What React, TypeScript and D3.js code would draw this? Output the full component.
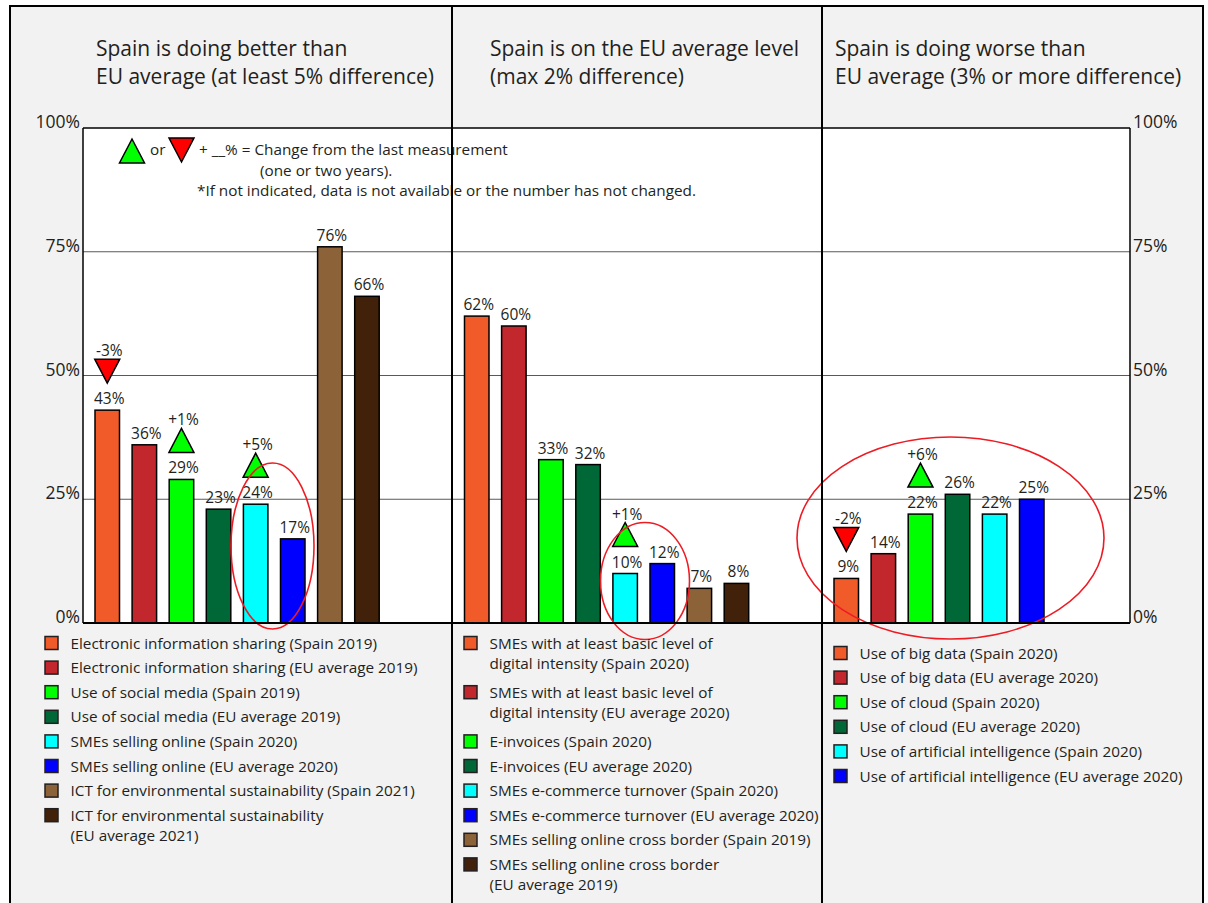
import React from 'react';
import * as d3 from 'd3';

const FONT = '"Open Sans", "Noto Sans", sans-serif';
const INK = '#231f20';

// ---- data ----
const panelTitles = [
  ['Spain is doing better than', 'EU average (at least 5% difference)'],
  ['Spain is on the EU average level', '(max 2% difference)'],
  ['Spain is doing worse than', 'EU average (3% or more difference)'],
];

const betterLabels = [
  ['Electronic information sharing (Spain 2019)'],
  ['Electronic information sharing (EU average 2019)'],
  ['Use of social media (Spain 2019)'],
  ['Use of social media (EU average 2019)'],
  ['SMEs selling online (Spain 2020)'],
  ['SMEs selling online (EU average 2020)'],
  ['ICT for environmental sustainability (Spain 2021)'],
  ['ICT for environmental sustainability', '(EU average 2021)'],
];
const betterValues = [43, 36, 29, 23, 24, 17, 76, 66];
const betterChanges = [-3, null, 1, null, 5, null, null, null];

const averageLabels = [
  ['SMEs with at least basic level of', 'digital intensity (Spain 2020)'],
  ['SMEs with at least basic level of', 'digital intensity (EU average 2020)'],
  ['E-invoices (Spain 2020)'],
  ['E-invoices (EU average 2020)'],
  ['SMEs e-commerce turnover (Spain 2020)'],
  ['SMEs e-commerce turnover (EU average 2020)'],
  ['SMEs selling online cross border (Spain 2019)'],
  ['SMEs selling online cross border', '(EU average 2019)'],
];
const averageValues = [62, 60, 33, 32, 10, 12, 7, 8];
const averageChanges = [null, null, null, null, 1, null, null, null];

const worseLabels = [
  ['Use of big data (Spain 2020)'],
  ['Use of big data (EU average 2020)'],
  ['Use of cloud (Spain 2020)'],
  ['Use of cloud (EU average 2020)'],
  ['Use of artificial intelligence (Spain 2020)'],
  ['Use of artificial intelligence (EU average 2020)'],
];
const worseValues = [9, 14, 22, 26, 22, 25];
const worseChanges = [-2, null, 6, null, null, null];

const seriesColors = ['#f15a29', '#c1272d', '#00ff00', '#006837', '#00ffff', '#0000ff', '#8c6239', '#42210b'];
const yTicks = [0, 25, 50, 75, 100];

// ---- layout ----
const W = 1208;
const H = 903;
const PLOT_L = 83;
const PLOT_R = 1130;
const STEP = 37.1;
const BAR_W = 24.5;
const PAD_IN = 1 - BAR_W / STEP;

const TITLE_SIZE = 21;
const LEGEND_SIZE = 15.3;
const VALUE_SIZE = 15.5;
const TICK_SIZE = 17.5;

const y = d3.scaleLinear().domain([0, 100]).range([623, 128]);

const panels = [
  { title: panelTitles[0], labels: betterLabels, values: betterValues, changes: betterChanges,
    titleX: 96, barStart: 95, legendX: 45, legendY: 643,
    ring: { cx: 272.5, cy: 546, rx: 41.5, ry: 83 } },
  { title: panelTitles[1], labels: averageLabels, values: averageValues, changes: averageChanges,
    titleX: 490, barStart: 464.5, legendX: 464, legendY: 643,
    ring: { cx: 645, cy: 581, rx: 44.5, ry: 58.5 } },
  { title: panelTitles[2], labels: worseLabels, values: worseValues, changes: worseChanges,
    titleX: 835, barStart: 834, legendX: 834, legendY: 653,
    ring: { cx: 950.5, cy: 538, rx: 153.5, ry: 101 } },
];

const dividers = [452, 822];
const ROW = 24.6;
const WRAP = 20;

function Triangle({ cx, base, up, size = 25, h = 24 }) {
  const pts = up
    ? [[cx - size / 2, base], [cx + size / 2, base], [cx, base - h]]
    : [[cx - size / 2, base - h], [cx + size / 2, base - h], [cx, base]];
  return (
    <path
      d={d3.line()(pts) + 'Z'}
      fill={up ? '#00ff00' : '#ff0000'}
      stroke="#000"
      strokeWidth={1.5}
      strokeLinejoin="miter"
    />
  );
}

function Panel({ p }) {
  const idx = p.values.map((_, i) => i);
  const x = d3
    .scaleBand<number>()
    .domain(idx)
    .range([p.barStart, p.barStart + STEP * (idx.length - PAD_IN)])
    .paddingInner(PAD_IN)
    .paddingOuter(0);

  let row = 0;
  const legendRows = p.labels.map((lines) => {
    const cy = p.legendY + row * ROW;
    row += lines.length;
    return { lines, cy };
  });

  return (
    <g>
      {p.title.map((t, i) => (
        <text key={i} x={p.titleX} y={56 + i * 28} fontSize={TITLE_SIZE} fill={INK}>
          {t}
        </text>
      ))}

      {idx.map((i) => {
        const v = p.values[i];
        const bx = x(i);
        const cx = bx + x.bandwidth() / 2;
        const top = y(v);
        const ch = p.changes[i];
        const triBase = top - 27;
        return (
          <g key={i}>
            <rect
              x={bx}
              y={top}
              width={x.bandwidth()}
              height={y(0) - top}
              fill={seriesColors[i]}
              stroke="#000"
              strokeWidth={1.5}
            />
            <text x={cx + 2} y={top - 6} fontSize={VALUE_SIZE} textAnchor="middle" fill={INK}>
              {v}%
            </text>
            {ch != null && (
              <g>
                <Triangle cx={cx} base={triBase} up={ch > 0} />
                <text x={cx + 2} y={triBase - 24 - 3} fontSize={VALUE_SIZE} textAnchor="middle" fill={INK}>
                  {ch > 0 ? `+${ch}%` : `-${Math.abs(ch)}%`}
                </text>
              </g>
            )}
          </g>
        );
      })}

      <ellipse
        cx={p.ring.cx}
        cy={p.ring.cy}
        rx={p.ring.rx}
        ry={p.ring.ry}
        fill="none"
        stroke="#ed1c24"
        strokeWidth={1.6}
      />

      {legendRows.map((r, i) => (
        <g key={i}>
          <rect
            x={p.legendX}
            y={r.cy - 6.5}
            width={13}
            height={13}
            fill={seriesColors[i]}
            stroke="#231f20"
            strokeWidth={1.5}
          />
          {r.lines.map((ln, j) => (
            <text key={j} x={p.legendX + 25.5} y={r.cy + 5.5 + j * WRAP} fontSize={LEGEND_SIZE} fill={INK}>
              {ln}
            </text>
          ))}
        </g>
      ))}
    </g>
  );
}

export default function App() {
  return (
    <div style={{ position: 'absolute', left: 0, top: 0 }}>
      <svg width={W} height={H} style={{ display: 'block', fontFamily: FONT }}>
        <rect x={0} y={0} width={W} height={H} fill="#fff" />
        <rect x={10} y={6} width={1193} height={H + 10} fill="#f2f2f2" stroke="#000" strokeWidth={2} />

        {/* plotting area */}
        <rect x={PLOT_L} y={y(100)} width={PLOT_R - PLOT_L} height={y(0) - y(100)} fill="#fff" />
        {yTicks.filter((t) => t > 0 && t < 100).map((t) => (
          <line key={t} x1={PLOT_L} x2={PLOT_R} y1={y(t)} y2={y(t)} stroke="#58595b" strokeWidth={1.2} />
        ))}
        <line x1={PLOT_L} x2={PLOT_R} y1={y(100)} y2={y(100)} stroke="#000" strokeWidth={1.5} />

        {/* tick labels on both sides */}
        {yTicks.map((t) => (
          <g key={t}>
            <text x={80} y={y(t)} fontSize={TICK_SIZE} textAnchor="end" fill={INK}>
              {t}%
            </text>
            <text x={1133} y={y(t)} fontSize={TICK_SIZE} textAnchor="start" fill={INK}>
              {t}%
            </text>
          </g>
        ))}

        {/* note on change markers */}
        <g>
          <Triangle cx={132} base={163} up={true} />
          <text x={150} y={155} fontSize={LEGEND_SIZE} fill={INK}>or</text>
          <Triangle cx={181.5} base={162} up={false} />
          <text x={199} y={155} fontSize={LEGEND_SIZE} fill={INK}>+ __% = Change from the last measurement</text>
          <text x={260} y={176} fontSize={LEGEND_SIZE} fill={INK}>(one or two years).</text>
          <text x={197} y={196} fontSize={LEGEND_SIZE} fill={INK}>
            *If not indicated, data is not available or the number has not changed.
          </text>
        </g>

        {panels.map((p, i) => (
          <Panel key={i} p={p} />
        ))}

        {/* axes and frame lines */}
        <line x1={PLOT_L} x2={PLOT_L} y1={y(100)} y2={y(0)} stroke="#000" strokeWidth={1.5} />
        <line x1={PLOT_R} x2={PLOT_R} y1={y(100)} y2={y(0)} stroke="#000" strokeWidth={1.5} />
        <line x1={PLOT_L} x2={PLOT_R} y1={y(0)} y2={y(0)} stroke="#000" strokeWidth={2} />
        {dividers.map((d) => (
          <line key={d} x1={d} x2={d} y1={6} y2={H} stroke="#000" strokeWidth={2} />
        ))}
      </svg>
    </div>
  );
}
